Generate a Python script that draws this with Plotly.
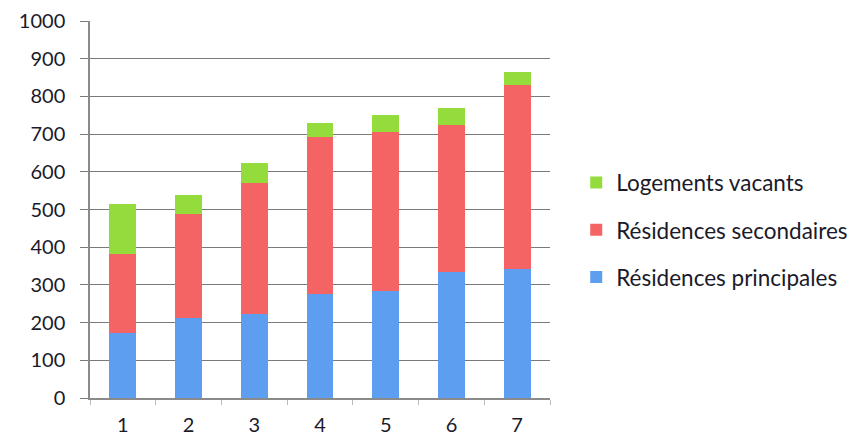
import plotly.graph_objects as go

categories = ["1", "2", "3", "4", "5", "6", "7"]
principales = [172, 212, 223, 276, 284, 334, 342]
secondaires = [210, 276, 347, 416, 422, 390, 488]
vacants = [133, 50, 53, 37, 45, 45, 35]

series = [
    ("Résidences principales", principales, "#5e9ef0", 3),
    ("Résidences secondaires", secondaires, "#f46464", 2),
    ("Logements vacants", vacants, "#93dc3c", 1),
]

fig = go.Figure()
for name, vals, color, rank in series:
    fig.add_trace(
        go.Bar(
            x=categories,
            y=vals,
            name=name,
            legendgroup=name,
            legendrank=rank,
            marker=dict(color=color, line=dict(width=0)),
        )
    )

# page body adds an 8px offset, so margins are trimmed accordingly
fig.update_layout(
    width=857,
    height=438,
    barmode="stack",
    bargap=0.59,
    plot_bgcolor="white",
    paper_bgcolor="white",
    margin=dict(l=82, r=312, t=13, b=48),
    font=dict(family="Lato, Noto Sans, sans-serif", size=20, color="#1a1a2a"),
    showlegend=True,
    legend=dict(
        x=1.057,
        y=0.446,
        xanchor="left",
        yanchor="middle",
        traceorder="grouped",
        tracegroupgap=15,
        font=dict(size=22.5),
        itemwidth=30,
    ),
    xaxis=dict(
        type="category",
        automargin=False,
        showgrid=False,
        showline=True,
        linecolor="#8a8a8a",
        linewidth=1.5,
        ticks="outside",
        tickson="boundaries",
        ticklen=5,
        tickcolor="#bbbbbb",
        ticklabelstandoff=8,
        tickfont=dict(size=20),
    ),
    yaxis=dict(
        range=[0, 1000],
        dtick=100,
        automargin=False,
        showgrid=True,
        gridcolor="#7a7a7a",
        gridwidth=1.2,
        showline=True,
        linecolor="#8a8a8a",
        linewidth=1.5,
        ticks="outside",
        ticklen=8,
        tickcolor="#7a7a7a",
        ticklabelstandoff=11,
        tickfont=dict(size=20),
        zeroline=False,
    ),
)

fig.write_html("out.html")
